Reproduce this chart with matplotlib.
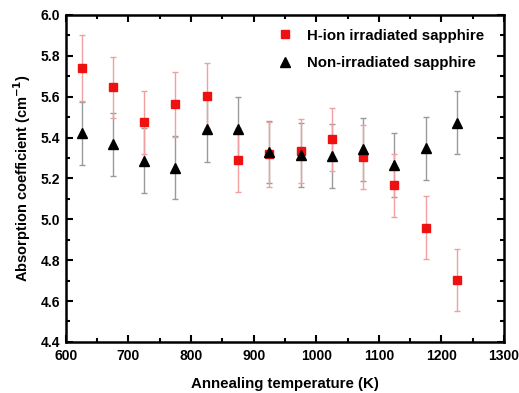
import matplotlib
matplotlib.use("Agg")
import matplotlib.pyplot as plt
from matplotlib.ticker import MultipleLocator

plt.rcParams['font.family'] = ['Liberation Sans', 'DejaVu Sans']
plt.rcParams['font.weight'] = 'bold'

temps = [625, 675, 725, 775, 825, 875, 925, 975, 1025, 1075, 1125, 1175, 1225]
h_ion = [5.74, 5.645, 5.475, 5.563, 5.605, 5.29, 5.318, 5.335, 5.392, 5.304, 5.166, 4.959, 4.703]
h_ion_err = [0.16, 0.15, 0.155, 0.16, 0.16, 0.155, 0.16, 0.155, 0.155, 0.155, 0.155, 0.155, 0.152]
non_irr = [5.42, 5.367, 5.287, 5.253, 5.44, 5.442, 5.33, 5.315, 5.31, 5.343, 5.266, 5.348, 5.473]
non_irr_err = [0.155, 0.155, 0.158, 0.155, 0.158, 0.155, 0.15, 0.155, 0.155, 0.155, 0.155, 0.155, 0.155]

fig = plt.figure(figsize=(5.19, 3.93), dpi=100)
ax = fig.add_axes([0.127, 0.130, 0.844, 0.832])

ax.errorbar(temps, non_irr, yerr=non_irr_err, fmt='none', ecolor='#9a9a9a',
            elinewidth=1.0, capsize=2.5, capthick=1.0, zorder=2)
ax.errorbar(temps, h_ion, yerr=h_ion_err, fmt='none', ecolor='#f0a0a0',
            elinewidth=1.0, capsize=2.5, capthick=1.0, zorder=3)
ax.plot(temps, h_ion, 's', color='#ee1111', markersize=5.5, linestyle='none',
        label='H-ion irradiated sapphire', zorder=4)
ax.plot(temps, non_irr, '^', color='black', markersize=6.5, linestyle='none',
        label='Non-irradiated sapphire', zorder=4)

ax.set_xlim(600, 1300)
ax.set_ylim(4.4, 6.0)
ax.xaxis.set_major_locator(MultipleLocator(100))
ax.xaxis.set_minor_locator(MultipleLocator(50))
ax.yaxis.set_major_locator(MultipleLocator(0.2))
ax.yaxis.set_minor_locator(MultipleLocator(0.1))
ax.yaxis.set_major_formatter(matplotlib.ticker.FormatStrFormatter('%.1f'))

ax.tick_params(which='both', direction='in', top=True, right=True, width=1.5,
               labelsize=10)
ax.tick_params(axis='x', which='both', pad=5)
ax.tick_params(axis='y', which='both', pad=4)
ax.tick_params(which='major', length=5)
ax.tick_params(which='minor', length=3)
for lbl in ax.get_xticklabels() + ax.get_yticklabels():
    lbl.set_fontweight('bold')
for s in ax.spines.values():
    s.set_linewidth(1.8)

ax.set_xlabel('Annealing temperature (K)', fontsize=10.8, fontweight='bold', labelpad=10)
ax.set_ylabel('Absorption coefficient (cm$^{\\mathbf{-1}}$)', fontsize=10.5, fontweight='bold', labelpad=6)

leg = ax.legend(loc='upper right', frameon=False, fontsize=10.8, handletextpad=1.0,
                labelspacing=0.9, borderaxespad=0.9, handlelength=1.0,
                bbox_to_anchor=(1.0, 1.018))
for t in leg.get_texts():
    t.set_fontweight('bold')

fig.savefig('out.png', dpi=100)
